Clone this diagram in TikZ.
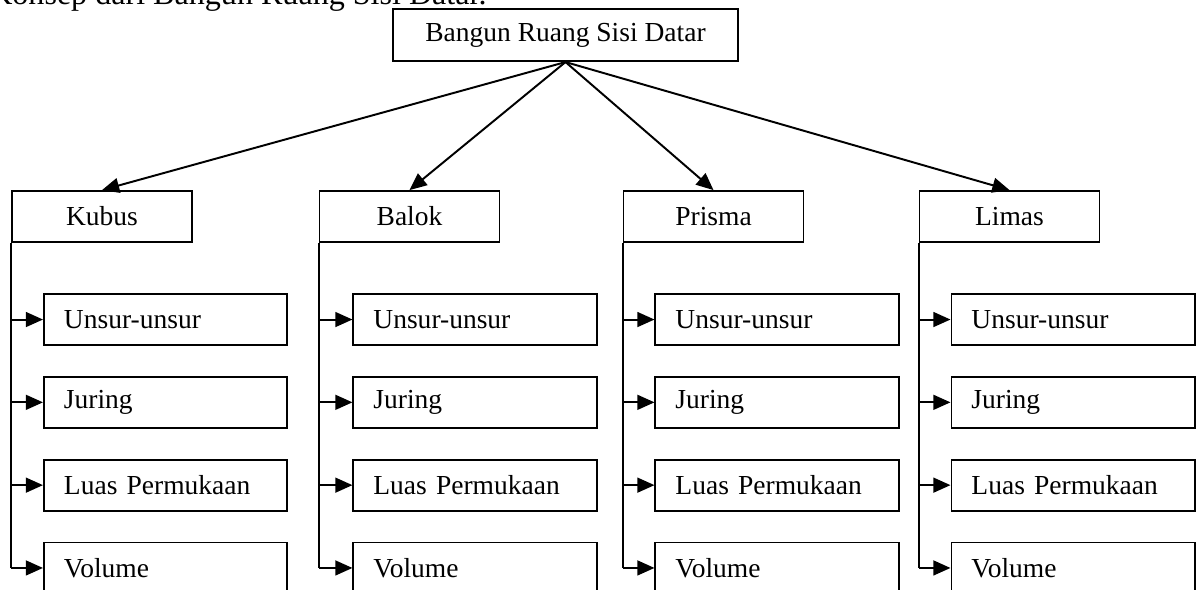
\documentclass[tikz,border=0pt]{standalone}
\usepackage{fontspec}
\setmainfont{Liberation Serif}
\usetikzlibrary{arrows.meta,positioning}
\tikzset{
  rootbox/.style={
    draw=black,
    line width=0.85pt,
    minimum width=5.29cm,
    minimum height=0.80cm,
    inner sep=3pt,
    font=\fontsize{12}{14}\selectfont
  },
  solidbox/.style={
    draw=black,
    line width=0.85pt,
    minimum width=2.76cm,
    minimum height=0.78cm,
    inner sep=3pt,
    font=\fontsize{12}{14}\selectfont
  },
  itembox/.style={
    draw=black,
    line width=0.85pt,
    text width=3.116cm,
    align=left,
    inner xsep=0.307cm,
    minimum height=0.78cm,
    font=\fontsize{12}{14}\selectfont
  },
  titletext/.style={inner sep=0pt,font=\fontsize{14}{16}\selectfont},
  treeflow/.style={-{Triangle[length=7.5pt,width=6.5pt]},line width=0.85pt,draw=black},
  branchline/.style={line width=0.85pt,draw=black}
}

\begin{document}
\begin{tikzpicture}[x=0.015336cm,y=-0.015336cm]
  \clip (0,0) rectangle (1197,590);
  \node[titletext,anchor=base east] (title) at (487,4) {Konsep dari Bangun Ruang Sisi Datar.};
  \node[rootbox] (root) at (565.5,35) {Bangun Ruang Sisi Datar};
  \node[solidbox] (kubus) at (102,216.5) {Kubus};
  \node[solidbox] (balok) at (409.5,216.5) {Balok};
  \node[solidbox] (prisma) at (713.5,216.5) {Prisma};
  \node[solidbox] (limas) at (1009.5,216.5) {Limas};
  \draw[treeflow] (root.south) -- (kubus.north);
  \draw[treeflow] (root.south) -- (balok.north);
  \draw[treeflow] (root.south) -- (prisma.north);
  \draw[treeflow] (root.south) -- (limas.north);
  % kubus
  \node[itembox,below right=0.77cm and 0.49cm of kubus.south west] (kubusU) {Unsur-unsur};
  \node[itembox,below=0.46cm of kubusU] (kubusJ) {Juring};
  \node[itembox,below=0.46cm of kubusJ] (kubusL) {Luas Permukaan};
  \node[itembox,below=0.46cm of kubusL] (kubusV) {Volume};
  \draw[branchline] (kubus.south west) -- (kubus.south west |- kubusV.west);
  \draw[treeflow] (kubus.south west |- kubusU.west) -- (kubusU.west);
  \draw[treeflow] (kubus.south west |- kubusJ.west) -- (kubusJ.west);
  \draw[treeflow] (kubus.south west |- kubusL.west) -- (kubusL.west);
  \draw[treeflow] (kubus.south west |- kubusV.west) -- (kubusV.west);
  % balok
  \node[itembox,below right=0.77cm and 0.52cm of balok.south west] (balokU) {Unsur-unsur};
  \node[itembox,below=0.46cm of balokU] (balokJ) {Juring};
  \node[itembox,below=0.46cm of balokJ] (balokL) {Luas Permukaan};
  \node[itembox,below=0.46cm of balokL] (balokV) {Volume};
  \draw[branchline] (balok.south west) -- (balok.south west |- balokV.west);
  \draw[treeflow] (balok.south west |- balokU.west) -- (balokU.west);
  \draw[treeflow] (balok.south west |- balokJ.west) -- (balokJ.west);
  \draw[treeflow] (balok.south west |- balokL.west) -- (balokL.west);
  \draw[treeflow] (balok.south west |- balokV.west) -- (balokV.west);
  % prisma
  \node[itembox,below right=0.77cm and 0.49cm of prisma.south west] (prismaU) {Unsur-unsur};
  \node[itembox,below=0.46cm of prismaU] (prismaJ) {Juring};
  \node[itembox,below=0.46cm of prismaJ] (prismaL) {Luas Permukaan};
  \node[itembox,below=0.46cm of prismaL] (prismaV) {Volume};
  \draw[branchline] (prisma.south west) -- (prisma.south west |- prismaV.west);
  \draw[treeflow] (prisma.south west |- prismaU.west) -- (prismaU.west);
  \draw[treeflow] (prisma.south west |- prismaJ.west) -- (prismaJ.west);
  \draw[treeflow] (prisma.south west |- prismaL.west) -- (prismaL.west);
  \draw[treeflow] (prisma.south west |- prismaV.west) -- (prismaV.west);
  % limas
  \node[itembox,below right=0.77cm and 0.49cm of limas.south west] (limasU) {Unsur-unsur};
  \node[itembox,below=0.46cm of limasU] (limasJ) {Juring};
  \node[itembox,below=0.46cm of limasJ] (limasL) {Luas Permukaan};
  \node[itembox,below=0.46cm of limasL] (limasV) {Volume};
  \draw[branchline] (limas.south west) -- (limas.south west |- limasV.west);
  \draw[treeflow] (limas.south west |- limasU.west) -- (limasU.west);
  \draw[treeflow] (limas.south west |- limasJ.west) -- (limasJ.west);
  \draw[treeflow] (limas.south west |- limasL.west) -- (limasL.west);
  \draw[treeflow] (limas.south west |- limasV.west) -- (limasV.west);
\end{tikzpicture}
\end{document}
